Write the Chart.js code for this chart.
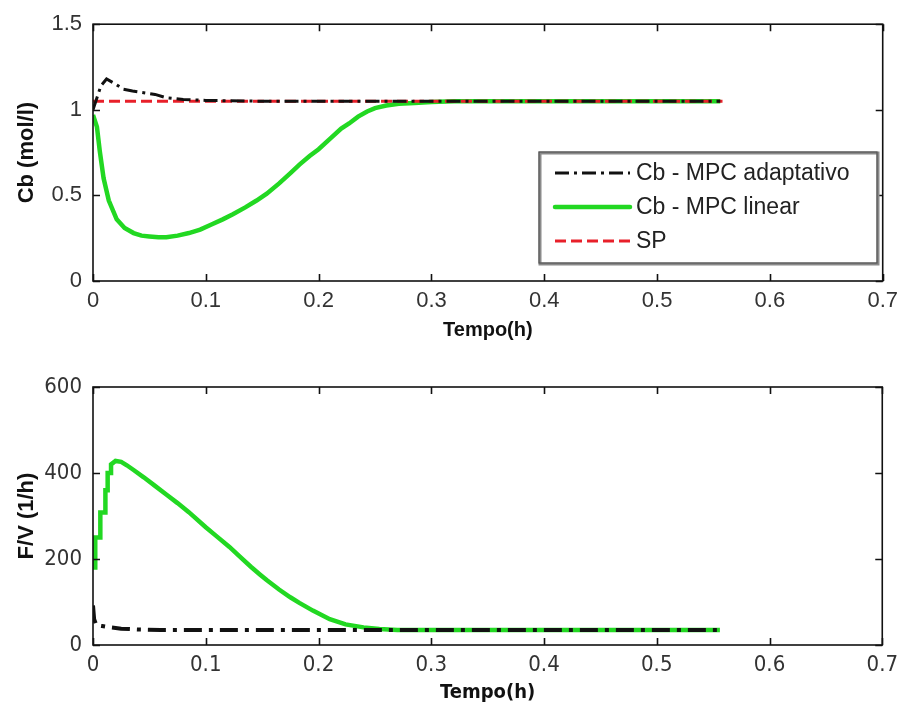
<!DOCTYPE html>
<html>
<head>
<meta charset="utf-8">
<title>Cb e F/V</title>
<script src="https://cdn.jsdelivr.net/npm/chart.js@4.4.1/dist/chart.umd.min.js"></script>
<style>
  html, body { margin: 0; padding: 0; background: #fff; }
  canvas { position: absolute; left: 0; }
  #graficoCb { top: 0; }
  #graficoFv { top: 360px; }
</style>
</head>
<body>
<canvas id="graficoCb" width="905" height="342"></canvas>
<canvas id="graficoFv" width="905" height="345"></canvas>
<script>
// ---- dados do grafico de cima: Cb (mol/l) ----
const tempoCbAdapt = [0, 0.003, 0.007, 0.012, 0.02, 0.027, 0.035, 0.045, 0.055, 0.065, 0.08, 0.1, 0.15, 0.2, 0.3, 0.4, 0.5, 0.556];
const cbAdapt      = [1.0, 1.06, 1.14, 1.18, 1.15, 1.12, 1.11, 1.1, 1.09, 1.07, 1.06, 1.055, 1.05, 1.05, 1.05, 1.05, 1.05, 1.05];

const tempoCbLinear = [0, 0.0035, 0.006, 0.0094, 0.014, 0.021, 0.028, 0.036, 0.043, 0.05, 0.058, 0.065, 0.075, 0.085, 0.095, 0.105,
                       0.115, 0.124, 0.135, 0.145, 0.154, 0.165, 0.175, 0.183, 0.192, 0.2, 0.21, 0.22, 0.227, 0.235, 0.243, 0.25,
                       0.26, 0.271, 0.285, 0.3, 0.32, 0.35, 0.4, 0.45, 0.5, 0.556];
const cbLinear      = [0.97, 0.9, 0.76, 0.6, 0.47, 0.36, 0.31, 0.28, 0.265, 0.26, 0.255, 0.255, 0.265, 0.28, 0.3, 0.33,
                       0.36, 0.39, 0.43, 0.47, 0.51, 0.57, 0.63, 0.68, 0.73, 0.77, 0.83, 0.89, 0.92, 0.96, 0.99, 1.01,
                       1.025, 1.035, 1.04, 1.045, 1.05, 1.05, 1.05, 1.05, 1.05, 1.05];

const tempoSP = [0, 0.558];
const sp      = [1.05, 1.05];

// ---- dados do grafico de baixo: F/V (1/h) ----
const tempoFvAdapt = [0, 0.001, 0.003, 0.008, 0.015, 0.025, 0.04, 0.06, 0.1, 0.2, 0.3, 0.4, 0.5, 0.556];
const fvAdapt      = [92, 60, 46, 44, 41, 38, 36, 35, 35, 35, 35, 35, 35, 35];

// os degraus do inicio ficam com o tempo repetido
const tempoFvLinear = [0, 0.002, 0.002, 0.0065, 0.0065, 0.011, 0.011, 0.013, 0.013, 0.016, 0.016, 0.02, 0.025, 0.03, 0.036,
                       0.045, 0.055, 0.065, 0.075, 0.085, 0.1, 0.11, 0.121, 0.13, 0.14, 0.148, 0.154, 0.165, 0.175, 0.183,
                       0.195, 0.21, 0.224, 0.24, 0.254, 0.27, 0.29, 0.32, 0.36, 0.4, 0.45, 0.5, 0.556];
const fvLinear      = [180, 180, 250, 250, 308, 308, 360, 360, 400, 400, 420, 428, 426, 418, 407,
                       390, 370, 350, 330, 309, 274, 252, 228, 206, 182, 164, 151, 129, 111, 98,
                       80, 60, 48, 41, 37, 35, 35, 35, 35, 35, 35, 35, 35];

const ticksTempo = [0, 0.1, 0.2, 0.3, 0.4, 0.5, 0.6, 0.7];
const legendaCb = ['Cb - MPC adaptativo', 'Cb - MPC linear', 'SP'];

const PRETO = '#111111';
const VERDE = '#22d822';
const VERMELHO = '#e8202a';

Chart.defaults.font.family = "'Liberation Sans', Arial, sans-serif";
Chart.defaults.color = '#222';

function pontos(tempo, valores) {
    return tempo.map((t, i) => ({ x: t, y: valores[i] }));
}

// 1 em vez de 1.0, 0.1 em vez de 0.10000000000000001
const rotulo = v => String(Math.round(v * 1000) / 1000);

// caixa em volta do grafico com os tracinhos para dentro (estilo matlab)
const moldura = {
    id: 'moldura',
    afterDraw(chart) {
        const { ctx, chartArea: a, scales } = chart;
        ctx.save();
        ctx.strokeStyle = PRETO;
        ctx.lineWidth = 1.6;
        ctx.strokeRect(a.left, a.top, a.right - a.left, a.bottom - a.top);
        ctx.beginPath();
        scales.x.ticks.forEach(t => {
            const px = Math.round(scales.x.getPixelForValue(t.value)) + 0.5;
            ctx.moveTo(px, a.bottom); ctx.lineTo(px, a.bottom - 7);
            ctx.moveTo(px, a.top); ctx.lineTo(px, a.top + 7);
        });
        scales.y.ticks.forEach(t => {
            const py = Math.round(scales.y.getPixelForValue(t.value)) + 0.5;
            ctx.moveTo(a.left, py); ctx.lineTo(a.left + 7, py);
            ctx.moveTo(a.right, py); ctx.lineTo(a.right - 7, py);
        });
        ctx.stroke();
        ctx.restore();
    }
};

// legenda dentro da area do grafico
const legenda = {
    id: 'legenda',
    afterDraw(chart, args, opts) {
        if (!opts.display) return;
        const ctx = chart.ctx;
        ctx.save();
        ctx.fillStyle = '#fff';
        ctx.fillRect(opts.x, opts.y, opts.w, opts.h);
        ctx.strokeStyle = '#8a8a8a';
        ctx.lineWidth = 3;
        ctx.strokeRect(opts.x + 1, opts.y + 1, opts.w, opts.h);
        ctx.strokeStyle = '#555';
        ctx.lineWidth = 1.2;
        ctx.strokeRect(opts.x, opts.y, opts.w, opts.h);
        ctx.font = "23px 'Liberation Sans', Arial, sans-serif";
        ctx.textBaseline = 'middle';
        opts.ordem.forEach((idx, i) => {
            const ds = chart.data.datasets[idx];
            const y = opts.y + opts.primeira + i * opts.passo;
            ctx.beginPath();
            ctx.strokeStyle = ds.borderColor;
            ctx.lineWidth = ds.borderWidth;
            ctx.lineCap = ds.borderWidth > 4 ? 'round' : 'butt';
            ctx.setLineDash(ds.borderDash || []);
            ctx.moveTo(opts.x + 16, y);
            ctx.lineTo(opts.x + 91, y);
            ctx.stroke();
            ctx.setLineDash([]);
            ctx.fillStyle = '#222';
            ctx.fillText(ds.label, opts.x + 97, y + 1);
        });
        ctx.restore();
    }
};

function eixos(yMin, yMax, yPasso, tituloY, alturaX, fonteTicks) {
    return {
        x: {
            type: 'linear', min: 0, max: 0.7,
            afterBuildTicks: s => { s.ticks = ticksTempo.map(v => ({ value: v })); },
            afterFit: s => { s.height = alturaX; },
            grid: { display: false, drawTicks: false },
            border: { display: false },
            ticks: { padding: 7, font: fonteTicks, color: '#333', maxRotation: 0, callback: rotulo },
            title: { display: true, text: 'Tempo(h)', color: PRETO, padding: 0,
                     font: { size: 20, weight: 'bold', family: fonteTicks.family } }
        },
        y: {
            min: yMin, max: yMax,
            ticks: { stepSize: yPasso, padding: 11, font: fonteTicks, color: '#333', callback: rotulo },
            afterFit: s => { s.width = 93; },
            grid: { display: false, drawTicks: false },
            border: { display: false },
            title: { display: true, text: tituloY, color: PRETO, padding: { top: 14, bottom: 0 },
                     font: { size: 22, weight: 'bold' } }
        }
    };
}

const opcoesBase = {
    responsive: false,
    animation: false,
    devicePixelRatio: 1,
    elements: { point: { radius: 0 }, line: { tension: 0 } }
};

new Chart(document.getElementById('graficoCb'), {
    type: 'line',
    data: {
        datasets: [{
            label: legendaCb[0],
            data: pontos(tempoCbAdapt, cbAdapt),
            borderColor: PRETO, borderWidth: 3, borderDash: [14, 5, 3, 5]
        }, {
            label: legendaCb[2],
            data: pontos(tempoSP, sp),
            borderColor: VERMELHO, borderWidth: 3, borderDash: [11, 5]
        }, {
            label: legendaCb[1],
            data: pontos(tempoCbLinear, cbLinear),
            borderColor: VERDE, borderWidth: 4.5
        }]
    },
    options: {
        ...opcoesBase,
        layout: { padding: { top: 23, right: 19, left: 0, bottom: 0 } },
        scales: eixos(0, 1.5, 0.5, 'Cb (mol/l)', 61, { size: 22, family: "'Liberation Sans', Arial, sans-serif" }),
        plugins: {
            legend: { display: false },
            tooltip: { enabled: false },
            legenda: { display: true, x: 539, y: 152, w: 338, h: 111, primeira: 21, passo: 34, ordem: [0, 2, 1] }
        }
    },
    plugins: [moldura, legenda]
});

new Chart(document.getElementById('graficoFv'), {
    type: 'line',
    data: {
        datasets: [{
            label: 'F/V - MPC adaptativo',
            data: pontos(tempoFvAdapt, fvAdapt),
            borderColor: PRETO, borderWidth: 4, borderDash: [18, 7, 4, 7]
        }, {
            label: 'F/V - MPC linear',
            data: pontos(tempoFvLinear, fvLinear),
            borderColor: VERDE, borderWidth: 4.5
        }]
    },
    options: {
        ...opcoesBase,
        layout: { padding: { top: 27, right: 19, left: 0, bottom: 0 } },
        scales: eixos(0, 600, 200, 'F/V (1/h)', 60,
                      { size: 22, family: "'Liberation Sans Narrow', 'DejaVu Sans Condensed', 'Liberation Sans', sans-serif" }),
        plugins: {
            legend: { display: false },
            tooltip: { enabled: false },
            legenda: { display: false }
        }
    },
    plugins: [moldura, legenda]
});
</script>
</body>
</html>
